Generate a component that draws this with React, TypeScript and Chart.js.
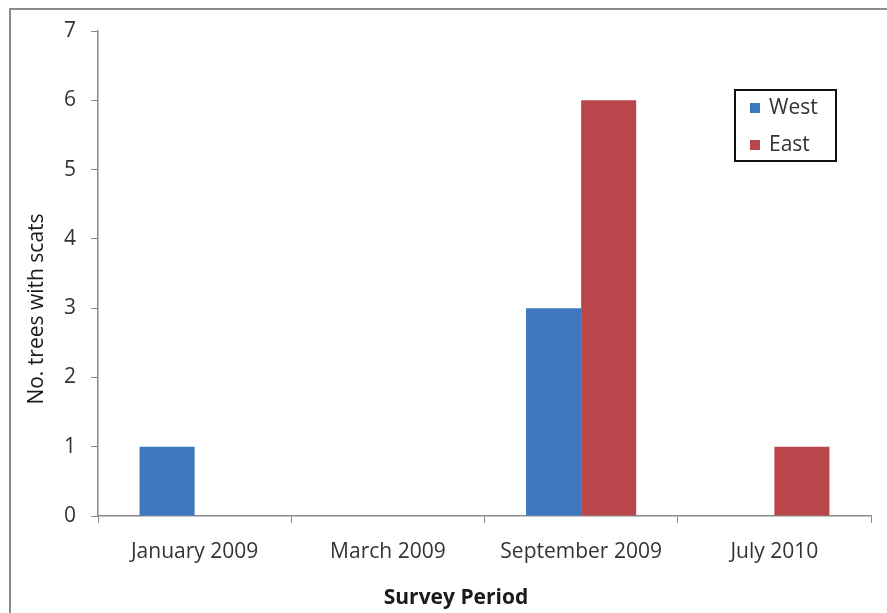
import React, { useEffect, useRef } from "react";
import { Chart, registerables } from "chart.js";

Chart.register(...registerables);

const periods = ["January 2009", "March 2009", "September 2009", "July 2010"];
const westTrees = [1, 0, 3, 0];
const eastTrees = [0, 0, 6, 1];
const seriesNames = ["West", "East"];
const seriesColors = ["#3d77bd", "#b8464a"];
const yTicks = [0, 1, 2, 3, 4, 5, 6, 7];

const FONT = "'Open Sans', 'DejaVu Sans', sans-serif";
const AXIS_GREY = "#8a8a8a";

// Thin outer frame plus the axis titles and a boxed legend.
const decorations = {
  id: "decorations",
  afterDraw(chart: Chart) {
    const { ctx, chartArea } = chart;
    ctx.save();

    // outer frame (top and left edges)
    ctx.strokeStyle = "#8c8c8c";
    ctx.lineWidth = 2;
    ctx.beginPath();
    ctx.moveTo(10, chart.height);
    ctx.lineTo(10, 9);
    ctx.lineTo(chart.width, 9);
    ctx.stroke();

    // y axis title
    ctx.fillStyle = "#1a1a1a";
    ctx.font = `21px ${FONT}`;
    ctx.textAlign = "center";
    ctx.textBaseline = "middle";
    ctx.save();
    ctx.translate(37, 309);
    ctx.rotate(-Math.PI / 2);
    ctx.fillText("No. trees with scats", 0, 0);
    ctx.restore();

    // x axis title
    ctx.font = `bold 21px ${FONT}`;
    ctx.fillText("Survey Period", 456, 598);

    // legend
    const lx = chartArea.right - 136;
    const ly = chartArea.top + 59;
    ctx.strokeStyle = "#111";
    ctx.lineWidth = 2;
    ctx.strokeRect(lx, ly, 101, 71);
    ctx.font = `21px ${FONT}`;
    ctx.textAlign = "left";
    chart.data.datasets.forEach((ds, i) => {
      const cy = ly + 18 + i * 37;
      ctx.fillStyle = ds.backgroundColor as string;
      ctx.fillRect(lx + 15, cy - 5, 10, 10);
      ctx.fillStyle = "#333";
      ctx.fillText(ds.label as string, lx + 34, cy);
    });

    ctx.restore();
  },
};

export default function App() {
  const canvasRef = useRef<HTMLCanvasElement | null>(null);

  useEffect(() => {
    if (!canvasRef.current) return;
    const chart = new Chart(canvasRef.current, {
      type: "bar",
      data: {
        labels: periods,
        datasets: [
          {
            label: seriesNames[0],
            data: westTrees,
            backgroundColor: seriesColors[0],
            categoryPercentage: 0.57,
            barPercentage: 1,
          },
          {
            label: seriesNames[1],
            data: eastTrees,
            backgroundColor: seriesColors[1],
            categoryPercentage: 0.57,
            barPercentage: 1,
          },
        ],
      },
      options: {
        animation: false,
        responsive: false,
        maintainAspectRatio: false,
        layout: { padding: { left: 10, top: 31, right: 16, bottom: 0 } },
        plugins: {
          legend: { display: false },
          tooltip: { enabled: false },
        },
        scales: {
          x: {
            afterFit: (scale: any) => {
              scale.height = 97;
            },
            grid: {
              display: true,
              drawOnChartArea: false,
              drawTicks: true,
              tickLength: 7,
              color: AXIS_GREY,
              offset: true,
            },
            border: { display: true, color: AXIS_GREY, width: 1.5 },
            ticks: {
              color: "#333",
              font: { family: FONT, size: 21 },
              padding: 16,
              maxRotation: 0,
            },
          },
          y: {
            min: 0,
            max: 7,
            afterFit: (scale: any) => {
              scale.width = 88;
            },
            afterBuildTicks: (scale: any) => {
              scale.ticks = yTicks.map((v) => ({ value: v }));
            },
            grid: {
              display: true,
              drawOnChartArea: false,
              drawTicks: true,
              tickLength: 7,
              color: AXIS_GREY,
            },
            border: { display: true, color: AXIS_GREY, width: 1.5 },
            ticks: {
              color: "#333",
              font: { family: FONT, size: 21 },
              padding: 15,
            },
          },
        },
      },
      plugins: [decorations],
    });
    return () => chart.destroy();
  }, []);

  return (
    <div style={{ position: "fixed", left: 0, top: 0, width: 887, height: 613, background: "#fff" }}>
      <canvas ref={canvasRef} width={887} height={613} />
    </div>
  );
}
